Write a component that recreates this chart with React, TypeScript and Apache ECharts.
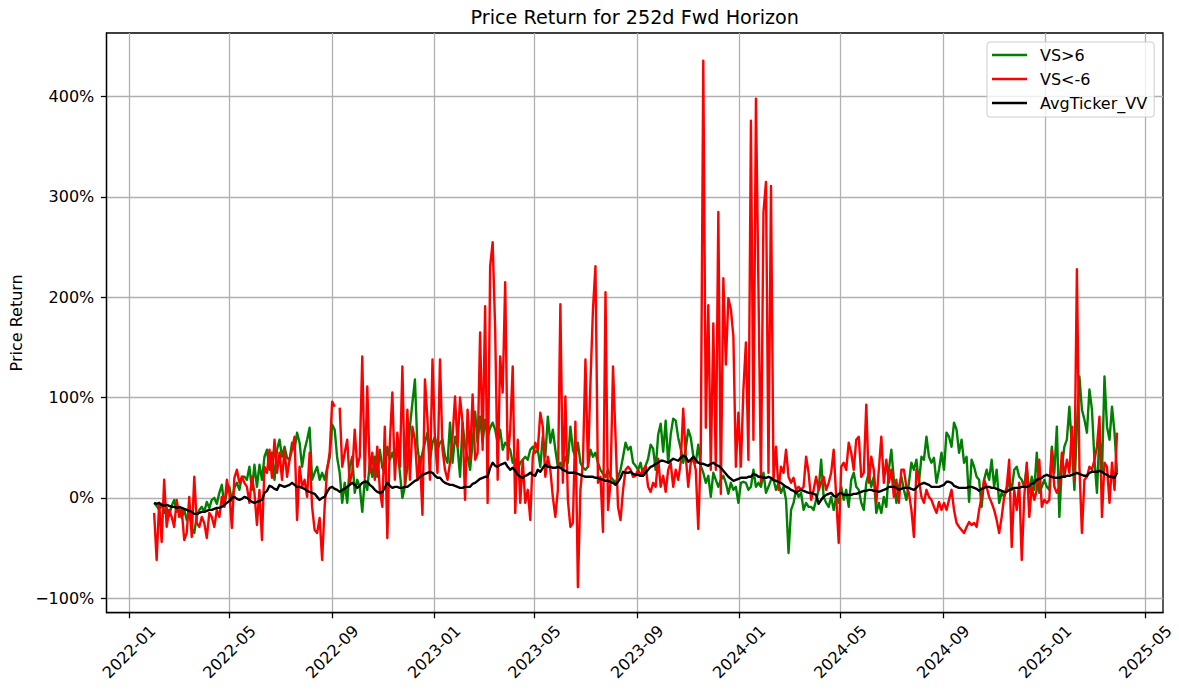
import React, { useEffect, useRef } from 'react';
import * as echarts from 'echarts';

const TITLE = 'Price Return for 252d Fwd Horizon';
const Y_NAME = 'Price Return';
const NAME_POS = 'VS>6';
const NAME_NEG = 'VS<-6';
const NAME_AVG = 'AvgTicker_VV';
const FIRST_DATE = '2022-01-31';
const STEP_DAYS = 3;
const X_MIN_DATE = '2021-12-05';
const X_MAX_DATE = '2025-05-22';
const Y_MIN = -114.5;
const Y_MAX = 463.5;
const X_TICK_LABELS = ['2022-01', '2022-05', '2022-09', '2023-01', '2023-05', '2023-09', '2024-01', '2024-05', '2024-09', '2025-01', '2025-05'];
const Y_TICKS = [-100, 0, 100, 200, 300, 400];

// values in percent, one every STEP_DAYS days from FIRST_DATE
const VS_POS = [
  -5, -8, -12, -6, -15, -10, -18, -8, -2, -14, -10, -20, -12, -22, -15, -30, -35, -18, -12, -9, -14, -4, -10, -2, 0, -6, 5, 13, -8, 6, 11, -3, 10, 15, 8, 21,
  21, 18, 31, 8, 33, 11, 33, 18, 41, 48, 28, 45, 18, 48, 58, 41, 51, 40, 38, 55, 48, 65, 55, 31, 48, 58, 70, 18, 25, 31, 18, 25, 18, 30, 40, 73, 68, 40, 25,
  -5, 15, -5, 31, 41, 5, 18, 11, -14, 18, 8, 35, 21, 41, 21, 48, 30, 25, 51, 38, 45, 35, 51, 25, 0, 11, 31, 71, 95, 118, 51, 31, 45, 55, 65, 38, 55, 61, 48,
  55, 58, 41, 35, 75, 35, 61, 51, 21, 75, 51, 41, 28, 55, 86, 55, 81, 55, 78, 61, 70, 75, 68, 55, 68, 48, 55, 52, 48, 35, 38, 28, 35, 38, 41, 38, 48, 51, 45,
  48, 31, 61, 41, 81, 55, 68, 48, 31, 35, 28, 41, 35, 71, 48, 41, 55, 35, 30, 28, 31, 48, 41, 45, 35, 28, 24, 21, 28, 21, 18, 15, 21, 28, 41, 55, 48, 51, 35,
  32, 28, 35, 22, 32, 39, 53, 49, 28, 63, 74, 46, 77, 35, 63, 79, 77, 60, 49, 35, 49, 68, 60, 42, 35, 53, 32, 25, 15, 22, 1, 25, 18, 11, 18, 22, 15, 4, 15,
  8, 11, -5, 15, 16, 15, 8, 11, 28, 11, 15, 11, 25, 5, 11, 18, 18, 8, 15, 5, 11, -2, -55, -12, -5, 8, 1, 5, -12, -5, -9, -9, -12, -2, 8, 38, 1, -5, -9, 1,
  -12, 1, -5, 11, -2, 8, -9, 18, 25, 11, 8, -5, -12, 15, 25, 11, 21, -15, -5, -15, 1, -9, 28, 48, 18, -5, 11, 21, 8, -2, 15, 35, 28, 38, 15, 41, 38, 61, 41,
  35, 40, 15, 28, 45, 28, 65, 61, 51, 75, 68, 45, 58, 35, 41, -4, 38, 31, 21, 18, -9, 18, 28, 18, 38, 11, 28, -5, 5, 1, 8, 18, 8, 28, 31, 21, 18, 11, 31,
  5, 21, 8, 45, 5, 11, 18, 11, 8, 51, 25, 71, -19, 31, 51, 58, 91, 51, 8, 71, 121, 88, 78, 65, 108, 88, 38, 5, 65, 25, 121, 71, 58, 91, 65, 25,
];

const VS_NEG = [
  -15, -62, -5, -44, 18, -29, -12, -19, -29, -2, -19, -12, -42, -35, 1, -39, 21, -25, -29, -19, -25, -40, -15, -19, -29, -12, -19, 1, -9, 18, 5, -30, 20, 28, 15, 21,
  15, 11, -5, 21, 5, -27, 8, -42, 31, 25, 48, 20, 58, 25, 45, 18, 48, 21, 38, 48, 61, -22, 31, 11, 18, 1, 45, -9, -32, -35, -20, -62, -9, 28, 45, 96, 91, null, 90,
  31, 45, 58, 15, 25, 68, 31, 41, 141, 20, 111, 25, 45, 18, 51, 8, -9, 71, -40, 55, 105, 18, 65, 31, 131, 11, 88, 18, 71, 58, 18, 41, -17, 118, 78, 18, 138, 58, 25,
  138, 48, 28, 18, 35, 61, 101, 51, 100, 75, -2, 88, 38, 103, 38, 45, 165, 48, 191, -5, 231, 255, 168, 18, 141, 105, 215, 38, 68, 131, -15, 58, -5, 38, -5, 8, -22, 41, 55,
  48, 85, 71, 21, 41, 28, 1, -19, 8, 193, 15, 101, -2, -29, -25, 76, -89, 8, 35, 138, 31, 115, 188, 231, 15, 21, -34, 205, -12, 15, 131, 61, -9, -22, 8, 28, 31, 28, 21,
  22, 28, 22, 28, 32, 11, 6, 15, 11, 39, 11, 22, 6, 28, 35, 11, 28, 18, 35, 89, 42, 11, 35, 39, 28, -31, 46, 436, 70, 192, 28, 174, 28, 285, 4, 219, 133, 199, 188,
  161, 31, 85, 31, 108, 155, 38, 376, 58, 398, 208, 15, 285, 315, 25, 311, 18, 51, 8, 31, 25, 48, 21, 15, 20, 8, 11, 8, 11, 41, 25, -2, 8, 21, 8, 15, 21, 8, 15, 25,
  48, 1, -45, 31, 35, 28, 55, 45, 28, 58, 61, 21, 25, 93, 15, 41, 28, -5, 28, 61, 15, 38, 15, 28, 1, 18, -5, 28, 28, 11, 5, -12, -39, 28, 18, 1, -5, 8, 1,
  -2, -9, -15, -4, -12, -5, -12, -2, 8, -12, -25, -29, -32, -35, -29, -24, -27, -25, -29, -12, 1, 18, 11, 1, -5, -12, -22, -35, -19, 1, 11, 38, -49, 8, -12, 15, -62, 1, 35,
  -19, 11, -2, 8, 38, -9, -2, -5, -2, 48, 11, 5, 11, 45, 21, 38, 25, 71, 18, 228, 31, -35, 18, 21, 31, 28, 38, 51, 81, -19, 35, 31, -5, 35, 8, 65,
];

const AVG = [
  -5, -6, -5, -7, -8, -7, -8, -9, -9, -10, -9, -10, -11, -12, -13, -14, -16, -16, -15, -14, -14, -13, -12, -12, -11, -10, -10, -9, -7, -5, -3, 0, 1, -1, -2, -1,
  1, 0, -2, -4, -5, -4, -3, -2, 5, 7, 12, 11, 9, 8, 13, 12, 11, 12, 13, 15, 13, 11, 11, 10, 9, 7, 6, 5, 4, 1, -2, 0, 1, 6, 10, 11, 9, 8, 6,
  8, 9, 11, 13, 15, 13, 10, 12, 15, 16, 16, 13, 11, 8, 6, 5, 6, 10, 15, 12, 10, 11, 11, 10, 10, 11, 11, 13, 15, 17, 18, 21, 23, 24, 25, 26, 25, 22, 20,
  20, 17, 15, 14, 13, 13, 12, 11, 10, 10, 11, 11, 11, 14, 15, 17, 19, 20, 21, 21, 30, 35, 32, 31, 33, 34, 35, 31, 28, 30, 27, 23, 21, 20, 22, 23, 25, 23, 22,
  28, 26, 30, 33, 31, 31, 30, 30, 31, 30, 28, 27, 25, 25, 25, 25, 24, 23, 22, 21, 21, 21, 21, 20, 20, 19, 18, 17, 17, 16, 15, 13, 16, 20, 26, 25, 25, 26, 24,
  23, 23, 22, 22, 25, 28, 31, 32, 34, 35, 37, 37, 36, 35, 37, 39, 38, 37, 40, 42, 41, 36, 38, 41, 38, 35, 34, 34, 33, 32, 34, 35, 33, 32, 30, 27, 24, 21, 19,
  17, 18, 19, 20, 20, 20, 21, 21, 24, 23, 21, 21, 20, 20, 21, 20, 18, 17, 16, 15, 13, 11, 10, 8, 7, 5, 7, 8, 7, 6, 5, 5, 4, 3, -6, -2, 1, 3, 4, 5,
  2, 1, 4, 5, 3, 3, 3, 3, 4, 4, 5, 6, 7, 7, 8, 8, 7, 7, 6, 7, 8, 9, 11, 11, 11, 10, 8, 9, 10, 10, 10, 9, 8, 10, 13, 14, 15, 14, 13,
  11, 11, 11, 11, 12, 13, 16, 16, 15, 12, 11, 10, 10, 10, 10, 11, 11, 10, 9, 7, 9, 10, 11, 11, 10, 10, 9, 8, 7, 6, 6, 8, 9, 10, 10, 10, 11, 11, 11,
  12, 14, 15, 18, 19, 20, 22, 23, 22, 21, 20, 20, 20, 21, 21, 22, 22, 23, 24, 25, 24, 23, 22, 22, 25, 26, 26, 26, 27, 26, 24, 23, 21, 21, 20, 25,
];

const FONT = 'DejaVu Sans';
const DAY_MS = 86400000;

function toMs(s: string): number {
  const p = s.split('-').map(Number);
  return Date.UTC(p[0], p[1] - 1, p[2] || 1);
}

function fmtMonth(v: number): string {
  const d = new Date(v);
  return d.getUTCFullYear() + '-' + String(d.getUTCMonth() + 1).padStart(2, '0');
}

function fmtPct(v: number): string {
  return (v < 0 ? '\u2212' + Math.abs(v) : String(v)) + '%';
}

export default function App() {
  const ref = useRef<HTMLDivElement>(null);

  useEffect(() => {
    document.body.style.margin = '0';
    const chart = echarts.init(ref.current as HTMLDivElement, null, { renderer: 'svg' });
    const start = toMs(FIRST_DATE);
    const pairs = (arr: (number | null)[]) => arr.map((v, i) => [start + i * STEP_DAYS * DAY_MS, v]);
    const xTicks = X_TICK_LABELS.map(toMs);
    const axisLineStyle = { color: '#000', width: 1.28 };
    const gridLineStyle = { color: '#b0b0b0', width: 1.28 };

    const lineSeries = (name: string, data: (number | null)[], color: string) => ({
      name,
      type: 'line',
      data: pairs(data),
      symbol: 'none',
      showSymbol: false,
      connectNulls: false,
      lineStyle: { color, width: 2.4, join: 'round' },
      itemStyle: { color },
      emphasis: { disabled: true },
    });

    chart.setOption({
      animation: false,
      backgroundColor: '#fff',
      textStyle: { fontFamily: FONT },
      grid: {
        left: 106.5,
        right: 16,
        top: 33,
        bottom: 77.3,
        show: true,
        borderColor: '#000',
        borderWidth: 1.28,
        backgroundColor: 'transparent',
      },
      graphic: [
        {
          type: 'text',
          x: 634.8,
          y: 17,
          style: {
            text: TITLE,
            fontSize: 19.2,
            fontFamily: FONT,
            fill: '#000',
            align: 'center',
            verticalAlign: 'middle',
            textAlign: 'center',
            textVerticalAlign: 'middle',
          },
        },
      ],
      legend: {
        data: [NAME_POS, NAME_NEG, NAME_AVG],
        orient: 'vertical',
        left: 987,
        top: 42,
        itemWidth: 35,
        itemHeight: 2.4,
        itemGap: 8,
        icon: 'rect',
        padding: [5, 7, 6, 5],
        backgroundColor: 'rgba(255,255,255,0.8)',
        borderColor: '#cccccc',
        borderWidth: 1,
        borderRadius: 3,
        textStyle: { fontSize: 16, color: '#000', fontFamily: FONT, lineHeight: 16, padding: [0, 0, 0, 8] },
      },
      xAxis: {
        type: 'value',
        min: toMs(X_MIN_DATE),
        max: toMs(X_MAX_DATE),
        axisLine: { show: true, onZero: false, lineStyle: axisLineStyle },
        axisTick: { show: true, length: 5.6, lineStyle: axisLineStyle, customValues: xTicks },
        axisLabel: {
          customValues: xTicks,
          formatter: fmtMonth,
          rotate: 45,
          align: 'center',
          verticalAlign: 'middle',
          margin: 39,
          fontSize: 16,
          color: '#000',
          fontFamily: FONT,
        },
        splitLine: { show: true, lineStyle: gridLineStyle },
      },
      yAxis: {
        type: 'value',
        min: Y_MIN,
        max: Y_MAX,
        name: Y_NAME,
        nameLocation: 'middle',
        nameGap: 80,
        nameTextStyle: { fontSize: 16, color: '#000', fontFamily: FONT },
        axisLine: { show: true, onZero: false, lineStyle: axisLineStyle },
        axisTick: { show: true, length: 5.6, lineStyle: axisLineStyle, customValues: Y_TICKS },
        axisLabel: {
          customValues: Y_TICKS,
          formatter: fmtPct,
          margin: 12.2,
          fontSize: 16,
          color: '#000',
          fontFamily: FONT,
        },
        splitLine: { show: true, lineStyle: gridLineStyle },
      },
      series: [
        lineSeries(NAME_POS, VS_POS, '#008000'),
        lineSeries(NAME_NEG, VS_NEG, '#ff0000'),
        lineSeries(NAME_AVG, AVG, '#000000'),
      ],
    });
    return () => chart.dispose();
  }, []);

  return <div ref={ref} style={{ width: 1179, height: 690 }} />;
}
